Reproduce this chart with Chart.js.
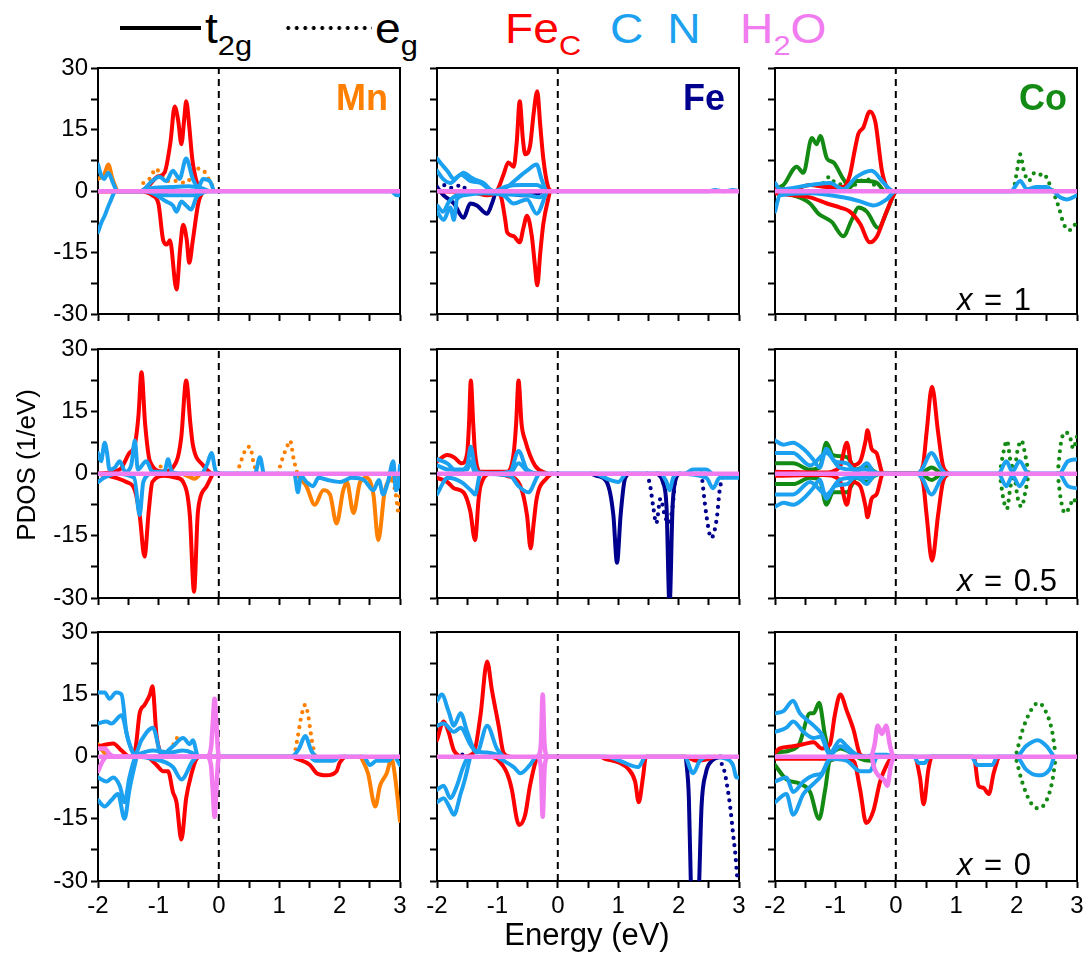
<!DOCTYPE html>
<html>
<head>
<meta charset="utf-8">
<script src="https://cdn.jsdelivr.net/npm/chart.js@4.4.1/dist/chart.umd.min.js"></script>
<style>
html, body { margin: 0; padding: 0; width: 1088px; height: 953px; overflow: hidden; background: #fff; }
body { position: relative; font-family: "Liberation Sans", Arial, sans-serif; color: #000; }
canvas { position: absolute; }
.txt { position: absolute; white-space: nowrap; line-height: 1; }
.leg { position: absolute; top: 8px; font-size: 42px; line-height: 1; white-space: nowrap; transform: scaleX(1.1); transform-origin: left top; }
.leg sub { font-size: 28px; vertical-align: baseline; position: relative; top: 12px; }
.metal { font-size: 36px; font-weight: bold; top: 80px; }
.dop { font-size: 31px; word-spacing: 3px; }
</style>
</head>
<body>

<!-- legend -->
<div style="position:absolute;left:120px;top:26px;width:81px;height:4px;background:#000"></div>
<div class="leg" style="left:205px">t<sub>2g</sub></div>
<div style="position:absolute;left:284px;top:26px;width:88px;height:4px;background:radial-gradient(circle, #000 1.7px, transparent 2.2px) 0 0 / 8.5px 4px repeat-x"></div>
<div class="leg" style="left:375px">e<sub>g</sub></div>
<div class="leg" style="left:505px;color:#ff0000">Fe<sub>C</sub></div>
<div class="leg" style="left:610px;color:#1ca0f0;word-spacing:10px">C N</div>
<div class="leg" style="left:740px;color:#f07cf0">H<sub>2</sub>O</div>

<div id="charts"></div>

<!-- axis titles -->
<div class="txt" style="left:-74px;top:452px;width:200px;text-align:center;font-size:26px;transform:rotate(-90deg)">PDOS (1/eV)</div>
<div class="txt" style="left:487px;top:919px;width:200px;text-align:center;font-size:31px">Energy (eV)</div>

<!-- panel labels -->
<div class="txt metal" style="left:288px;width:100px;text-align:right;color:#ff8000">Mn</div>
<div class="txt metal" style="left:625px;width:100px;text-align:right;color:#00008f">Fe</div>
<div class="txt metal" style="left:967px;width:100px;text-align:right;color:#138a13">Co</div>
<div class="txt dop" style="left:957px;top:284px"><i>x</i> = 1</div>
<div class="txt dop" style="left:957px;top:565px"><i>x</i> = 0.5</div>
<div class="txt dop" style="left:957px;top:849px"><i>x</i> = 0</div>

<script>
const RED = '#ff0000', BLUE = '#1ca0f0', PINK = '#f07cf0';
const ORANGE = '#ff8000', NAVY = '#00008f', GREEN = '#138a13';

// axes
const energyTicks = [-2, -1, 0, 1, 2, 3];
const pdosTicks = [-30, -15, 0, 15, 30];
const metals = ['Mn', 'Fe', 'Co'];
const metalColors = [ORANGE, NAVY, GREEN];
const dopings = ['x = 1', 'x = 0.5', 'x = 0'];

const fermiLine = [[0, -30], [0, 30]];
const h2oBase = [[-2, 0], [3, 0]];

// ---- x = 1 ----
const mn1_t2g = [[-2,3],[-1.9,4],[-1.83,6.5],[-1.76,3],[-1.68,0]];
const mn1_eg = [[-1.25,2],[-1.12,3.5],[-1.05,5.5],[-0.95,4],[-0.85,2.5],[-0.7,2.5],[-0.55,2],[-0.45,3.5],[-0.35,5.5],[-0.25,5],[-0.15,2.5],[-0.05,0]];
const mn1_fecUp = [[-2,0],[-1.3,0],[-1.15,1.5],[-1.02,3.5],[-0.9,4.5],[-0.8,12],[-0.73,20.7],[-0.67,17],[-0.62,11.5],[-0.57,18],[-0.54,22],[-0.49,16],[-0.44,8],[-0.37,2.5],[-0.29,0.3],[-0.2,0]];
const mn1_fecDn = [[-2,0],[-1.3,0],[-1.1,-1],[-1.0,-3],[-0.92,-12],[-0.86,-13],[-0.81,-12],[-0.7,-24],[-0.64,-14],[-0.59,-8.2],[-0.53,-12],[-0.49,-17.5],[-0.43,-12],[-0.34,-3],[-0.26,-0.3],[-0.2,0]];
const mn1_cnUp1 = [[-2,6.5],[-1.95,4],[-1.9,3],[-1.83,4.5],[-1.75,2],[-1.68,0],[-1.3,0],[-1.1,2.5],[-0.98,3.5],[-0.87,2.5],[-0.76,5],[-0.65,3],[-0.54,8],[-0.43,3],[-0.34,1],[-0.26,3],[-0.15,2.5],[-0.08,0]];
const mn1_cnUp2 = [[-1.3,0],[-1.1,0.8],[-0.8,1],[-0.5,1.2],[-0.3,0.8],[-0.15,0]];
const mn1_cnDn1 = [[-2,-10],[-1.94,-7.5],[-1.89,-6],[-1.81,-3],[-1.7,0],[-1.2,0],[-1.09,-0.5],[-0.87,-2.5],[-0.76,-3.5],[-0.7,-5],[-0.62,-2.5],[-0.54,-3.5],[-0.46,-4.5],[-0.37,-1.5],[-0.25,0],[2.85,0],[2.95,-1],[3,-1]];
const mn1_cnDn2 = [[-1.2,0],[-1.0,-0.8],[-0.7,-1],[-0.4,-1],[-0.2,0]];

const fe1_t2g = [[-2,1],[-1.89,-1],[-1.72,-3],[-1.56,-6.5],[-1.45,-3],[-1.34,-3.5],[-1.17,-5.5],[-1.09,-3],[-1.01,0],[-0.8,-0.5],[-0.6,-1],[-0.4,-1],[-0.25,0]];
const fe1_eg = [[-2,1],[-1.85,1.5],[-1.75,0.8],[-1.6,1.5],[-1.5,0]];
const fe1_fecUp = [[-2,0],[-1.4,-0.3],[-1.17,-1],[-1.01,0],[-0.9,4],[-0.82,7],[-0.73,6],[-0.68,12],[-0.63,22],[-0.58,13],[-0.54,9],[-0.46,11],[-0.4,19],[-0.34,24.4],[-0.29,16],[-0.24,8],[-0.16,1],[-0.1,0]];
const fe1_fecDn = [[-1.1,0],[-0.95,-1],[-0.87,-7],[-0.84,-10],[-0.73,-11],[-0.63,-12.5],[-0.57,-9],[-0.51,-6],[-0.43,-11],[-0.38,-18],[-0.34,-23],[-0.29,-15],[-0.24,-8],[-0.13,0]];
const fe1_cnUp1 = [[-2,8],[-1.92,6.5],[-1.83,5],[-1.72,3],[-1.62,4],[-1.56,4.5],[-1.45,3.5],[-1.39,3],[-1.23,2],[-1.06,0],[-0.84,1],[-0.68,3],[-0.51,5],[-0.35,6.5],[-0.27,3],[-0.18,0],[2.5,0],[2.6,0.3],[2.75,0],[2.9,0.3],[3,0]];
const fe1_cnUp2 = [[-2,5],[-1.9,3],[-1.78,2],[-1.6,4],[-1.45,2.5],[-1.28,2],[-1.06,0],[-0.84,1.2],[-0.6,1.5],[-0.35,1.5],[-0.18,0]];
const fe1_cnDn1 = [[-2,-5],[-1.89,-7],[-1.78,-4],[-1.72,-7],[-1.67,-2],[-1.56,-1],[-1.2,-0.5],[-0.9,-1],[-0.73,-3],[-0.51,-2],[-0.35,-5.5],[-0.18,0]];
const fe1_cnDn2 = [[-2,-3.5],[-1.9,-5],[-1.8,-2.5],[-1.6,-0.5],[-1.2,0],[-0.8,-0.8],[-0.5,-1],[-0.3,-1.5],[-0.18,0]];

const co1_t2gUp = [[-2,0.5],[-1.86,1.5],[-1.64,6],[-1.53,4.5],[-1.39,13],[-1.31,11.5],[-1.25,13.5],[-1.14,8],[-1.03,7],[-0.87,3],[-0.76,1],[-0.65,2.5],[-0.48,2.5],[-0.31,2],[-0.2,0]];
const co1_t2gDn = [[-2,0],[-1.7,-1],[-1.42,-3],[-1.28,-5.5],[-1.06,-7.5],[-0.87,-11],[-0.73,-7],[-0.62,-4],[-0.48,-5],[-0.29,-9],[-0.15,-5],[-0.04,-1],[0,0]];
const co1_eg = [[-1.2,2],[-1.1,3.5],[-1.0,2],[-0.7,1.5],[-0.5,3],[-0.42,2.5],[-0.3,0.5],[0.5,null],[1.95,0],[2.02,6],[2.06,9],[2.12,5],[2.2,2.5],[2.3,4.5],[2.38,4],[2.45,4.3],[2.52,2.5],[2.6,0],[2.7,-4],[2.78,-8],[2.86,-9.5],[2.94,-9],[3,-6.5]];
const co1_fecUp = [[-2,0.5],[-1.7,0.5],[-1.42,1.5],[-1.14,1],[-0.87,1],[-0.76,4],[-0.68,10],[-0.62,14],[-0.54,15.5],[-0.43,19.5],[-0.34,17],[-0.23,5],[-0.15,1],[-0.04,0]];
const co1_fecDn = [[-2,-0.5],[-1.7,-1],[-1.42,-1.5],[-1.14,-3],[-0.92,-4],[-0.76,-5],[-0.59,-8],[-0.43,-12.5],[-0.31,-11],[-0.18,-6],[-0.04,-1],[0,0]];
const co1_cnUp = [[-2,2],[-1.92,0.5],[-1.42,1.5],[-1.09,2],[-0.87,0.5],[-0.65,3.5],[-0.4,5],[-0.2,2],[-0.04,0],[1.9,0],[2.06,2.5],[2.17,0.5],[2.33,1],[2.5,1],[2.6,0]];
const co1_cnDn = [[-2,-5],[-1.92,-1],[-1.42,-0.5],[-0.87,-1.5],[-0.59,-2.5],[-0.37,-3.5],[-0.15,-2],[0,0],[2.6,0],[2.72,-1.5],[2.83,-2],[3,-1]];

// ---- x = 0.5 ----
const mn5_t2g = [[-0.6,0],[-0.48,-0.8],[-0.4,-1.2],[-0.3,0],[0.5,null],[1.3,0],[1.34,-1],[1.45,-3],[1.59,-7.5],[1.73,-4],[1.84,-5],[1.95,-12],[2.06,-4],[2.12,-2],[2.23,-9.5],[2.34,-2],[2.45,-1],[2.56,-5],[2.64,-16],[2.75,-4],[2.89,-1],[3,0]];
const mn5_eg = [[-1.0,0],[-0.95,2],[-0.9,0],[0,null],[0.3,0],[0.38,3.5],[0.45,6],[0.52,6.5],[0.57,3],[0.63,0],[0.8,null],[0.98,0],[1.05,3.5],[1.13,6.5],[1.18,8],[1.24,3.5],[1.3,0],[2,null],[2.85,0],[2.93,-5],[2.97,-9],[3,-5]];
const mn5_fecUp = [[-2,0],[-1.64,1],[-1.48,5],[-1.39,7],[-1.33,14],[-1.28,24.5],[-1.22,12],[-1.14,3],[-0.92,0.5],[-0.7,3],[-0.62,9],[-0.54,22.5],[-0.47,12],[-0.43,7],[-0.26,2],[-0.12,0]];
const mn5_fecDn = [[-2,0],[-1.7,-1],[-1.53,-2],[-1.39,-4],[-1.31,-10],[-1.23,-20],[-1.16,-9],[-1.1,-2],[-0.9,-0.5],[-0.7,-1],[-0.59,-2],[-0.48,-10],[-0.41,-28.5],[-0.35,-10],[-0.31,-6],[-0.2,-3],[-0.1,0]];
const mn5_cnUp = [[-2,5],[-1.95,3],[-1.89,7.5],[-1.85,5],[-1.81,1],[-1.72,1.5],[-1.64,3],[-1.55,0.5],[-1.45,2],[-1.39,8],[-1.34,1],[-1.2,3],[-1.1,0.5],[-0.9,0.5],[-0.84,3.5],[-0.78,0.5],[-0.6,0],[-0.3,0],[-0.2,2],[-0.12,5],[-0.06,1],[0,0],[0.6,0],[0.68,4],[0.74,0]];
const mn5_cnDn = [[-2,-2],[-1.9,-1],[-1.7,0],[-1.4,-1],[-1.31,-10],[-1.25,-2],[-1.1,0],[1.25,0],[1.31,-4.5],[1.36,-0.5],[1.45,-2],[1.56,-3],[1.65,-1],[1.8,-1.5],[2.01,-2],[2.2,-1],[2.4,-1.5],[2.56,-4],[2.65,-1.5],[2.72,-5],[2.8,-2],[2.89,3],[2.93,-4],[2.97,-3],[3,2]];

const fe5_t2g = [[0.55,0],[0.64,-0.5],[0.81,-2],[0.92,-10],[0.98,-21.5],[1.04,-10],[1.1,-2],[1.16,0],[1.4,null],[1.65,0],[1.74,-2],[1.8,-8],[1.85,-32],[1.9,-8],[1.96,-1],[2.02,0]];
const fe5_eg = [[1.48,0],[1.53,-3],[1.58,-8],[1.63,-12],[1.7,-6],[1.77,-10],[1.83,-12],[1.9,-8],[1.95,0],[2.2,null],[2.38,0],[2.46,-10],[2.54,-15.5],[2.63,-11],[2.68,-4],[2.74,0]];
const fe5_fecUp = [[-2,3],[-1.83,4.5],[-1.72,4],[-1.59,2.5],[-1.5,5],[-1.47,12],[-1.44,22.5],[-1.4,12],[-1.37,5],[-1.28,0.5],[-0.84,0.5],[-0.73,5],[-0.69,12],[-0.65,22.5],[-0.6,12],[-0.54,8],[-0.38,2],[-0.18,0]];
const fe5_fecDn = [[-2,-1],[-1.83,-2],[-1.72,-3.5],[-1.56,-4.5],[-1.45,-9],[-1.37,-16],[-1.31,-6],[-1.28,-3],[-1.1,0],[-0.84,-0.5],[-0.62,-3],[-0.51,-10],[-0.45,-18],[-0.4,-12],[-0.35,-6],[-0.18,-1],[-0.1,0]];
const fe5_cnUp1 = [[-2,3.5],[-1.83,2.5],[-1.67,0.5],[-1.5,2],[-1.44,6.5],[-1.38,2],[-1.31,0],[-0.79,0.5],[-0.65,5.5],[-0.51,1],[-0.29,0],[2.1,0],[2.24,1],[2.46,1],[2.55,0]];
const fe5_cnUp2 = [[-2,2],[-1.8,1],[-1.5,1],[-1.44,3],[-1.38,0.5],[-0.8,0],[-0.65,2.5],[-0.5,0.5],[-0.3,0]];
const fe5_cnDn = [[-2,-5],[-1.89,-2],[-1.83,-1],[-1.6,-2],[-1.44,-4],[-1.37,-5],[-1.28,0],[-0.79,-0.5],[-0.65,-3],[-0.49,-4.5],[-0.29,0],[0.6,0],[0.86,-1.5],[1.0,-2],[1.14,0],[1.7,0],[1.8,-2],[1.85,-4],[1.91,-1],[2.0,0],[2.46,-1],[2.57,-3.5],[2.68,-1],[3,-1]];

const co5_t2gUp = [[-2,2.5],[-1.7,2.5],[-1.42,1],[-1.26,1.5],[-1.15,7.5],[-1.04,4.5],[-0.81,4],[-0.65,1],[-0.48,2],[-0.35,0.5],[-0.25,0],[0.4,0],[0.59,1.5],[0.75,0]];
const co5_t2gDn = [[-2,-2.5],[-1.7,-2.5],[-1.42,-1],[-1.26,-1.5],[-1.15,-7.5],[-1.04,-4.5],[-0.81,-4.5],[-0.65,-1],[-0.48,-2],[-0.35,-0.5],[-0.25,0],[0.4,0],[0.59,-1.5],[0.75,0]];
const co5_egUp = [[1.72,0],[1.78,5],[1.84,8],[1.9,3],[1.96,1],[2.02,6],[2.08,8],[2.15,4],[2.2,0],[2.4,null],[2.68,0],[2.73,7],[2.8,10],[2.88,9],[2.94,6],[3,9]];
const co5_egDn = [[1.72,0],[1.78,-6],[1.84,-8.5],[1.9,-3],[1.96,-1],[2.02,-6],[2.08,-8],[2.15,-4],[2.2,0],[2.4,null],[2.68,0],[2.73,-6],[2.8,-9.5],[2.88,-8],[2.94,-6],[3,-8]];
const co5_fecUp = [[-2,0.5],[-1.2,0.3],[-0.93,1.5],[-0.81,7.5],[-0.73,2],[-0.59,3],[-0.5,8],[-0.47,10.5],[-0.4,6],[-0.32,5],[-0.21,0],[0.35,0],[0.45,2],[0.51,10],[0.6,21],[0.7,10],[0.78,2],[0.87,0]];
const co5_fecDn = [[-2,-0.5],[-1.2,-0.3],[-0.93,-1.5],[-0.81,-7.5],[-0.73,-2],[-0.59,-3],[-0.5,-8],[-0.47,-10.5],[-0.4,-6],[-0.32,-5],[-0.21,0],[0.35,0],[0.45,-2],[0.51,-10],[0.6,-21],[0.7,-10],[0.78,-2],[0.87,0]];
const co5_cnUp1 = [[-2,8],[-1.86,7],[-1.7,7.5],[-1.53,6],[-1.37,3.5],[-1.26,1.5],[-1.15,6],[-1.01,3],[-0.81,2.5],[-0.65,0.5],[-0.48,2.5],[-0.37,0.5],[-0.21,0],[0.35,0],[0.43,1],[0.59,5],[0.76,1],[0.85,0],[1.7,0],[1.83,3],[1.93,0.5],[2.05,3],[2.2,0],[2.7,0],[2.85,3],[3,3.5]];
const co5_cnUp2 = [[-2,5],[-1.7,5],[-1.42,2],[-1.15,5],[-0.93,1.5],[-0.7,1],[-0.5,1],[-0.3,0]];
const co5_cnDn1 = [[-2,-8],[-1.86,-7],[-1.7,-7.5],[-1.53,-6],[-1.37,-3.5],[-1.26,-1.5],[-1.15,-6],[-1.01,-3],[-0.81,-2.5],[-0.65,-0.5],[-0.48,-2.5],[-0.37,-0.5],[-0.21,0],[0.35,0],[0.43,-1],[0.59,-5],[0.76,-1],[0.85,0],[1.7,0],[1.83,-3],[1.93,-0.5],[2.05,-3],[2.2,0],[2.7,0],[2.85,-3],[3,-3.5]];
const co5_cnDn2 = [[-2,-5],[-1.7,-5],[-1.42,-2],[-1.15,-5],[-0.93,-1.5],[-0.7,-1],[-0.5,-1],[-0.3,0]];

// ---- x = 0 ----
const mn0_t2g = [[-2,3],[-1.9,1],[-1.8,0],[0,null],[2.35,0],[2.47,-4],[2.59,-12],[2.67,-7],[2.78,-4],[2.86,-0.5],[2.92,-5],[3,-15.5]];
const mn0_eg = [[-0.75,3],[-0.7,4.5],[-0.65,3.5],[0,null],[1.25,0],[1.31,5],[1.37,10],[1.43,12.5],[1.48,10],[1.51,7],[1.54,4],[1.6,0]];
const mn0_fecUp = [[-2,2.5],[-1.75,3.2],[-1.61,1.5],[-1.48,0],[-1.38,2],[-1.31,10.5],[-1.23,12.5],[-1.14,15],[-1.1,17],[-1.03,5],[-0.95,0]];
const mn0_fecDn = [[-1.2,0],[-1.14,-0.5],[-1.03,-2],[-0.92,-3.5],[-0.84,-3.5],[-0.76,-8.5],[-0.7,-11],[-0.62,-20],[-0.54,-10],[-0.45,-4],[-0.37,-0.5],[-0.3,0],[1.2,0],[1.29,-0.5],[1.51,-2],[1.62,-4],[1.78,-4.5],[1.95,-3.5],[2.0,-1.5],[2.08,0]];
const mn0_cnUp1 = [[-2,15.5],[-1.89,15.5],[-1.81,14],[-1.7,15.5],[-1.61,15],[-1.53,6],[-1.44,1.5],[-1.39,0.5],[-1.2,0]];
const mn0_cnUp2 = [[-2,8],[-1.86,8.5],[-1.78,8],[-1.61,10],[-1.5,4],[-1.39,0.5],[-1.28,4],[-1.09,7],[-0.95,0.5],[-0.76,2.5],[-0.59,4.5],[-0.48,3],[-0.43,4],[-0.34,0],[1.2,0],[1.33,2],[1.43,5],[1.53,1.5],[1.6,0]];
const mn0_cnUp3 = [[-1.35,0.5],[-1.1,1.5],[-0.8,1],[-0.6,1.5],[-0.45,1],[-0.35,0]];
const mn0_cnDn1 = [[-2,-5],[-1.86,-6],[-1.75,-5],[-1.64,-7],[-1.56,-11],[-1.48,-5],[-1.36,0],[-1.1,-0.5],[-0.76,-2.5],[-0.62,-5.5],[-0.43,-1],[-0.34,0],[1.5,0],[1.6,-1],[1.9,-1],[2.0,0],[2.4,0],[2.5,-2],[2.61,-1],[2.8,-1],[2.9,0],[3,-2]];
const mn0_cnDn2 = [[-2,-10.5],[-1.89,-12],[-1.78,-10.5],[-1.67,-9],[-1.56,-15],[-1.48,-8],[-1.36,0]];
const mn0_h2oUp = [[-2,2],[-1.89,2],[-1.8,0.5],[-1.7,0],[-0.2,0],[-0.13,2],[-0.1,8],[-0.07,14],[-0.04,8],[-0.01,1],[0.02,0]];
const mn0_h2oDn = [[-2,-3.5],[-1.92,-1],[-1.85,0],[-0.2,0],[-0.13,-2],[-0.1,-8],[-0.07,-14.5],[-0.04,-8],[-0.01,-1],[0.02,0]];

const fe0_t2g = [[2.12,0],[2.17,-10],[2.21,-35],[2.27,-50],[2.33,-35],[2.38,-12],[2.45,-4],[2.55,-1],[2.7,0]];
const fe0_eg = [[-1.58,0.5],[-1.55,1],[-1.52,0.5],[0,null],[2.68,0],[2.72,-2],[2.76,-3.6],[2.81,-7.6],[2.86,-12.8],[2.9,-18.4],[2.94,-23.6],[2.97,-29],[3,-33]];
const fe0_fecUp = [[-2,4],[-1.89,8.5],[-1.81,6],[-1.72,1.5],[-1.56,0],[-1.39,1],[-1.28,10],[-1.17,23],[-1.09,16],[-0.98,7.5],[-0.9,1],[-0.8,0]];
const fe0_fecDn = [[-1.1,0],[-1.01,-0.5],[-0.84,-4],[-0.76,-8],[-0.68,-15],[-0.64,-16.5],[-0.54,-14],[-0.46,-7],[-0.35,-0.5],[-0.3,0],[0.7,0],[0.78,-0.5],[1.03,-1.5],[1.17,-3],[1.28,-6],[1.34,-11],[1.41,-5],[1.46,0],[2.1,0],[2.3,-1],[2.5,-0.5],[2.6,0]];
const fe0_cnUp1 = [[-2,13.5],[-1.92,15],[-1.81,11],[-1.72,7.5],[-1.61,10.5],[-1.5,6],[-1.37,1.5],[-1.17,1],[-1.0,0.5],[-0.9,0]];
const fe0_cnUp2 = [[-2,7.5],[-1.89,8],[-1.72,6],[-1.61,7],[-1.45,3],[-1.34,1],[-1.17,7.5],[-1.01,2],[-0.9,0]];
const fe0_cnDn1 = [[-2,-8],[-1.89,-7],[-1.78,-10],[-1.67,-7],[-1.58,-3],[-1.5,-0.5],[-1.4,0]];
const fe0_cnDn2 = [[-2,-11],[-1.89,-10],[-1.8,-12],[-1.72,-14],[-1.61,-9],[-1.53,-5],[-1.45,0]];
const fe0_cnDn3 = [[-1.0,0],[-0.95,-0.5],[-0.73,-2.5],[-0.62,-4],[-0.46,-2],[-0.35,0],[0.8,0],[1.03,-1],[1.33,-2.5],[1.46,0],[2.1,0],[2.24,-4],[2.35,-1],[2.5,0],[2.79,-0.5],[2.9,-2],[2.96,-5],[3,-5]];
const fe0_h2oUp = [[-0.32,0],[-0.28,3],[-0.25,15],[-0.22,3],[-0.18,0]];
const fe0_h2oDn = [[-0.32,0],[-0.28,-3],[-0.25,-14.5],[-0.22,-3],[-0.18,0]];

const co0_t2gUp = [[-2,1],[-1.75,1.5],[-1.6,3],[-1.42,10.5],[-1.36,10.5],[-1.27,13],[-1.17,5],[-1.09,1],[-0.92,2],[-0.75,1],[-0.59,-0.5],[-0.43,-1],[-0.3,0]];
const co0_t2gDn = [[-2,-2],[-1.81,-5.5],[-1.59,-6.5],[-1.42,-8.5],[-1.27,-15],[-1.17,-8],[-1.09,-1],[-0.92,-0.5],[-0.8,0]];
const co0_egUp = [[2.0,1],[2.09,6],[2.23,11],[2.36,13],[2.48,11],[2.59,6],[2.64,1]];
const co0_egDn = [[2.0,-1],[2.09,-6],[2.23,-11],[2.36,-12.5],[2.48,-11],[2.59,-6],[2.64,-1]];
const co0_fecUp = [[-2,1],[-1.92,2],[-1.7,2.5],[-1.53,3],[-1.36,3.5],[-1.23,2],[-1.09,3],[-1.01,10],[-0.92,15],[-0.81,11],[-0.7,6.5],[-0.59,0.5],[-0.5,0]];
const co0_fecDn = [[-2,-0.5],[-1.5,-0.5],[-1.1,-0.5],[-0.7,-1],[-0.59,-8],[-0.49,-16],[-0.37,-13],[-0.26,-6],[-0.15,-2],[-0.05,0],[0.3,0],[0.4,-5],[0.46,-11.5],[0.54,-3],[0.6,0],[1.29,0],[1.37,-7],[1.45,-7.5],[1.54,-9],[1.62,-4],[1.7,0]];
const co0_cnUp1 = [[-2,10.5],[-1.86,11],[-1.7,13.5],[-1.59,10.5],[-1.48,9],[-1.36,7.5],[-1.23,5.5],[-1.09,1],[-0.92,4],[-0.81,2.5],[-0.65,0.5],[-0.5,0]];
const co0_cnUp2 = [[-2,6],[-1.81,7],[-1.7,8.5],[-1.53,6],[-1.36,4.5],[-1.25,4.8],[-1.09,0.5],[-0.92,2.5],[-0.7,0.5],[-0.5,0],[-0.35,0.5],[-0.15,0.5],[-0.05,0],[2.0,0],[2.15,2.5],[2.35,4],[2.5,2.5],[2.62,0]];
const co0_cnDn1 = [[-2,-6],[-1.81,-5],[-1.7,-8.5],[-1.53,-6],[-1.36,-4.5],[-1.23,-4],[-1.09,-0.5],[-0.81,-1],[-0.59,-3.5],[-0.43,-3.5],[-0.3,0],[0.3,0],[0.38,-1.5],[0.48,-1.5],[0.55,0],[1.25,0],[1.35,-2],[1.6,-2],[1.68,0],[2.0,0],[2.15,-3],[2.35,-4.5],[2.55,-3],[2.62,0]];
const co0_cnDn2 = [[-2,-11],[-1.81,-9],[-1.7,-14],[-1.53,-9],[-1.36,-6.5],[-1.23,-4.5],[-1.09,-0.5],[-1.0,0]];
const co0_h2oUp = [[-0.4,0],[-0.35,3],[-0.3,7.5],[-0.23,5.5],[-0.16,7.5],[-0.1,3],[-0.05,0]];
const co0_h2oDn = [[-0.4,0],[-0.35,-3],[-0.29,-4.5],[-0.2,-5.5],[-0.14,-7],[-0.08,-2],[-0.03,0]];

// panel grid: rows are x = 1, 0.5, 0 ; columns Mn, Fe, Co
const panels = [
  { row: 0, col: 0, series: [[mn1_t2g,'t2g'],[mn1_eg,'eg'],[mn1_fecUp,'fec'],[mn1_fecDn,'fec'],[mn1_cnUp1,'cn'],[mn1_cnUp2,'cn'],[mn1_cnDn1,'cn'],[mn1_cnDn2,'cn']] },
  { row: 0, col: 1, series: [[fe1_t2g,'t2g'],[fe1_eg,'eg'],[fe1_fecUp,'fec'],[fe1_fecDn,'fec'],[fe1_cnUp1,'cn'],[fe1_cnUp2,'cn'],[fe1_cnDn1,'cn'],[fe1_cnDn2,'cn']] },
  { row: 0, col: 2, series: [[co1_t2gUp,'t2g'],[co1_t2gDn,'t2g'],[co1_eg,'eg'],[co1_fecUp,'fec'],[co1_fecDn,'fec'],[co1_cnUp,'cn'],[co1_cnDn,'cn']] },
  { row: 1, col: 0, series: [[mn5_t2g,'t2g'],[mn5_eg,'eg'],[mn5_fecUp,'fec'],[mn5_fecDn,'fec'],[mn5_cnUp,'cn'],[mn5_cnDn,'cn']] },
  { row: 1, col: 1, series: [[fe5_t2g,'t2g'],[fe5_eg,'eg'],[fe5_fecUp,'fec'],[fe5_fecDn,'fec'],[fe5_cnUp1,'cn'],[fe5_cnUp2,'cn'],[fe5_cnDn,'cn']] },
  { row: 1, col: 2, series: [[co5_t2gUp,'t2g'],[co5_t2gDn,'t2g'],[co5_egUp,'eg'],[co5_egDn,'eg'],[co5_fecUp,'fec'],[co5_fecDn,'fec'],[co5_cnUp1,'cn'],[co5_cnUp2,'cn'],[co5_cnDn1,'cn'],[co5_cnDn2,'cn']] },
  { row: 2, col: 0, series: [[mn0_t2g,'t2g'],[mn0_eg,'eg'],[mn0_fecUp,'fec'],[mn0_fecDn,'fec'],[mn0_cnUp1,'cn'],[mn0_cnUp2,'cn'],[mn0_cnUp3,'cn'],[mn0_cnDn1,'cn'],[mn0_cnDn2,'cn'],[mn0_h2oUp,'h2o'],[mn0_h2oDn,'h2o']] },
  { row: 2, col: 1, series: [[fe0_t2g,'t2g'],[fe0_eg,'eg'],[fe0_fecUp,'fec'],[fe0_fecDn,'fec'],[fe0_cnUp1,'cn'],[fe0_cnUp2,'cn'],[fe0_cnDn1,'cn'],[fe0_cnDn2,'cn'],[fe0_cnDn3,'cn'],[fe0_h2oUp,'h2o'],[fe0_h2oDn,'h2o']] },
  { row: 2, col: 2, series: [[co0_t2gUp,'t2g'],[co0_t2gDn,'t2g'],[co0_egUp,'eg'],[co0_egDn,'eg'],[co0_fecUp,'fec'],[co0_fecDn,'fec'],[co0_cnUp1,'cn'],[co0_cnUp2,'cn'],[co0_cnDn1,'cn'],[co0_cnDn2,'cn'],[co0_h2oUp,'h2o'],[co0_h2oDn,'h2o']] },
];

// page layout (pixels)
const colLeft = [98, 437, 775];
const rowTop = [67, 348, 631];
const plotW = 302;
const plotH = [247, 250, 250];
const padL = 60, padT = 16, padR = 14, padB = 45;

// lower order is drawn on top
const kindStyle = {
  h2o: { color: PINK, order: 0, width: 4.5 },
  cn:  { color: BLUE, order: 1, width: 4 },
  fec: { color: RED, order: 2, width: 4 },
  eg:  { order: 3, width: 4.2, dotted: true },
  t2g: { order: 4, width: 4 },
};

Chart.defaults.font.family = '"Liberation Sans", Arial, sans-serif';
Chart.defaults.color = '#000';

const toXY = arr => arr.map(p => ({ x: p[0], y: p[1] }));
const isWhole = v => Math.abs(v - Math.round(v)) < 1e-6;

function makeDataset(data, kind, metalColor) {
  const st = kindStyle[kind];
  return {
    data: toXY(data),
    borderColor: st.color || metalColor,
    borderWidth: st.width,
    borderDash: st.dotted ? [0, 7.5] : [],
    borderCapStyle: 'round',
    borderJoinStyle: 'round',
    cubicInterpolationMode: 'monotone',
    pointRadius: 0,
    fill: false,
    order: st.order,
    xAxisID: 'x',
    yAxisID: 'y'
  };
}

const holder = document.getElementById('charts');

panels.forEach(p => {
  const cv = document.createElement('canvas');
  const w = padL + plotW + padR;
  const h = padT + plotH[p.row] + padB;
  cv.width = w;
  cv.height = h;
  cv.style.left = (colLeft[p.col] - padL) + 'px';
  cv.style.top = (rowTop[p.row] - padT) + 'px';
  cv.style.width = w + 'px';
  cv.style.height = h + 'px';
  holder.appendChild(cv);

  const datasets = p.series.map(s => makeDataset(s[0], s[1], metalColors[p.col]));
  datasets.push(makeDataset(h2oBase, 'h2o'));
  datasets.push({
    data: toXY(fermiLine),
    borderColor: '#000',
    borderWidth: 2,
    borderDash: [7, 5],
    pointRadius: 0,
    fill: false,
    order: 5,
    xAxisID: 'x',
    yAxisID: 'y'
  });

  const axisLine = { display: true, color: '#000', width: 2 };
  const tickGrid = { display: true, drawOnChartArea: false, drawTicks: true, tickLength: 7, tickWidth: 2, tickColor: '#000' };

  new Chart(cv, {
    type: 'line',
    data: { datasets },
    options: {
      responsive: false,
      animation: false,
      devicePixelRatio: 1,
      layout: { padding: { left: 0, top: padT, right: padR, bottom: 0 } },
      plugins: { legend: { display: false }, tooltip: { enabled: false } },
      scales: {
        x: {
          type: 'linear', position: 'bottom', min: -2, max: 3,
          border: axisLine, grid: tickGrid,
          ticks: {
            stepSize: 0.5, autoSkip: false, maxRotation: 0, minRotation: 0, padding: 4,
            font: { size: 24 },
            callback: v => (p.row === 2 && isWhole(v) && energyTicks.includes(Math.round(v))) ? String(Math.round(v)) : ''
          },
          afterFit: s => { s.height = padB; }
        },
        y: {
          type: 'linear', position: 'left', min: -30, max: 30,
          border: axisLine, grid: tickGrid,
          ticks: {
            stepSize: 7.5, autoSkip: false, padding: 3,
            font: { size: 24 },
            callback: v => (p.col === 0 && pdosTicks.includes(v)) ? String(v) : ''
          },
          afterFit: s => { s.width = padL; }
        },
        xTop: {
          type: 'linear', position: 'top', min: -2, max: 3,
          border: axisLine, grid: { display: false }, ticks: { display: false },
          afterFit: s => { s.height = 0; }
        },
        yRight: {
          type: 'linear', position: 'right', min: -30, max: 30,
          border: axisLine, grid: { display: false }, ticks: { display: false },
          afterFit: s => { s.width = 0; }
        }
      }
    }
  });
});
</script>
</body>
</html>
